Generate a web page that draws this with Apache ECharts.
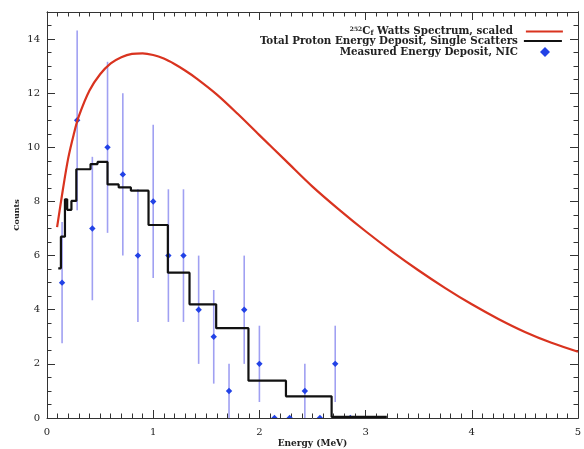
<!DOCTYPE html>
<html>
<head>
<meta charset="utf-8">
<script src="https://cdn.jsdelivr.net/npm/echarts@6/dist/echarts.min.js"></script>
<style>
  html, body { margin: 0; padding: 0; background: #ffffff; }
  #chart { width: 584px; height: 449px; }
</style>
</head>
<body>
<div id="chart"></div>
<script>
// Cf-252 Watts fission spectrum, scaled onto the counts axis
const wattsEnergy = [0.095, 0.15, 0.2, 0.25, 0.3, 0.4, 0.5, 0.6, 0.7, 0.8, 0.9, 1.0, 1.1, 1.2, 1.3, 1.4,
  1.6, 1.8, 2.0, 2.25, 2.5, 2.75, 3.0, 3.25, 3.5, 3.75, 4.0, 4.25, 4.5, 4.75, 5.0];
const wattsCounts = [7.05, 8.45, 9.6, 10.45, 11.15, 12.1, 12.7, 13.1, 13.33, 13.45, 13.47, 13.41, 13.28, 13.08, 12.84, 12.57,
  11.95, 11.22, 10.45, 9.5, 8.55, 7.7, 6.9, 6.15, 5.45, 4.8, 4.2, 3.66, 3.18, 2.78, 2.45];

// Simulated proton energy deposit (single scatters): bin edges and bin heights
const binEdges = [0.106, 0.131, 0.169, 0.19, 0.23, 0.276, 0.41, 0.476, 0.57, 0.675, 0.79, 0.956,
  1.138, 1.342, 1.593, 1.897, 2.25, 2.68, 3.2];
const binCounts = [5.53, 6.70, 8.08, 7.69, 8.02, 9.19, 9.38, 9.46, 8.63, 8.52, 8.40, 7.13,
  5.37, 4.20, 3.32, 1.38, 0.80, 0.04];

// Measured NIC energy deposits with their statistical errors
const measEnergy = [0.142, 0.284, 0.427, 0.570, 0.714, 0.856, 1.0, 1.143, 1.285, 1.428,
  1.570, 1.714, 1.857, 2.0, 2.142, 2.285, 2.428, 2.570, 2.714, 2.856];
const measCounts = [5, 11, 7, 10, 9, 6, 8, 6, 6, 4, 3, 1, 4, 2, 0, 0, 1, 0, 2, 0];
const measErrors = [2.24, 3.32, 2.65, 3.16, 3.0, 2.45, 2.83, 2.45, 2.45, 2.0,
  1.73, 1.0, 2.0, 1.41, 0, 0, 1.0, 0, 1.41, 0];

// Axis ranges and legend labels
const energyRange = [0, 5];
const countsRange = [0, 15];
const wattsName = 'Watts Spectrum';
const protonName = 'Total Proton Energy Deposit, Single Scatters';
const measName = 'Measured Energy Deposit, NIC';

const FONT = 'DejaVu Serif';
const INK = '#222222';
const AXIS = '#333333';

const wattsData = wattsEnergy.map((e, i) => [e, wattsCounts[i]]);
const stepData = binEdges.map((e, i) => [e, binCounts[Math.min(i, binCounts.length - 1)]]);
const measData = measEnergy.map((e, i) => [e, measCounts[i], measErrors[i]]);

function xAxisDef(pos, withLabels) {
  return {
    type: 'value', position: pos, min: energyRange[0], max: energyRange[1], interval: 1,
    name: withLabels ? 'Energy (MeV)' : '', nameLocation: 'middle', nameGap: 21, nameMoveOverlap: false,
    nameTextStyle: { fontFamily: FONT, fontSize: 9, fontWeight: 'bold', color: INK },
    axisLine: { show: true, onZero: false, lineStyle: { color: AXIS, width: 1 } },
    axisTick: { show: true, inside: true, length: 8, lineStyle: { color: AXIS } },
    minorTick: { show: true, splitNumber: 10, length: 4.5, lineStyle: { color: AXIS } },
    splitLine: { show: false },
    axisLabel: { show: withLabels, margin: 9, fontFamily: FONT, fontSize: 10, color: INK }
  };
}
function yAxisDef(pos, step, tickLen, withLabels) {
  return {
    type: 'value', position: pos, min: countsRange[0], max: countsRange[1], interval: step,
    name: withLabels ? 'Counts' : '', nameLocation: 'middle', nameGap: 26, nameMoveOverlap: false,
    nameTextStyle: { fontFamily: FONT, fontSize: 8, fontWeight: 'bold', color: INK },
    axisLine: { show: true, onZero: false, lineStyle: { color: AXIS, width: 1 } },
    axisTick: { show: true, inside: true, length: tickLen, lineStyle: { color: AXIS } },
    splitLine: { show: false },
    axisLabel: { show: withLabels, showMaxLabel: false, margin: 7, fontFamily: FONT, fontSize: 10, color: INK }
  };
}

// Legend entries: line samples without a centre marker
const legendText = { fontFamily: FONT, fontSize: 10.3, fontWeight: 'bold', color: INK, lineHeight: 12 };
const legendBase = {
  align: 'right', orient: 'vertical', padding: 0, selectedMode: false,
  itemStyle: { opacity: 0 }
};

const chart = echarts.init(document.getElementById('chart'), null, { renderer: 'canvas' });

chart.setOption({
  animation: false,
  backgroundColor: '#ffffff',
  grid: { left: 47, right: 6, top: 12, bottom: 31, containLabel: false, outerBoundsMode: 'none' },
  xAxis: [xAxisDef('bottom', true), xAxisDef('top', false)],
  yAxis: [
    yAxisDef('left', 2, 8, true),
    yAxisDef('left', 0.5, 4.5, false),
    yAxisDef('right', 2, 8, false),
    yAxisDef('right', 0.5, 4.5, false)
  ],
  legend: [
    Object.assign({}, legendBase, {
      data: [wattsName], right: 20, top: 25.5, itemWidth: 37, itemHeight: 14,
      lineStyle: { width: 2.2 },
      formatter: () => '{sup|252}C{sub|f} Watts Spectrum, scaled',
      textStyle: Object.assign({}, legendText, {
        padding: [0, 8, 0, 0],
        rich: {
          sup: { fontFamily: FONT, fontSize: 6, fontWeight: 'bold', color: INK, lineHeight: 12, padding: [0, 0, 5, 0] },
          sub: { fontFamily: FONT, fontSize: 7, fontWeight: 'bold', color: INK, lineHeight: 12, padding: [4, 0, 0, 0] }
        }
      })
    }),
    Object.assign({}, legendBase, {
      data: [protonName], right: 21, top: 35, itemWidth: 38, itemHeight: 14,
      lineStyle: { width: 2.2 },
      textStyle: Object.assign({}, legendText, { padding: [0, 1, 0, 0] })
    }),
    {
      data: [{ name: measName, icon: 'diamond' }], right: 34, top: 46, align: 'right', orient: 'vertical',
      itemWidth: 10, itemHeight: 10, padding: 0, selectedMode: false,
      textStyle: Object.assign({}, legendText, { padding: [0, 17, 0, 0] })
    }
  ],
  series: [
    {
      name: measName,
      type: 'custom',
      xAxisIndex: 0, yAxisIndex: 0,
      clip: true,
      z: 1,
      itemStyle: { color: '#2242e6' },
      data: measData,
      renderItem: function (params, api) {
        const x = api.value(0), y = api.value(1), err = api.value(2);
        const c = api.coord([x, y]);
        const children = [];
        if (err > 0) {
          const lo = api.coord([x, y - err]);
          const hi = api.coord([x, y + err]);
          children.push({
            type: 'line',
            shape: { x1: c[0], y1: lo[1], x2: c[0], y2: hi[1] },
            style: { stroke: '#a0a0f2', lineWidth: 1.6 }
          });
        }
        const r = 3.2;
        children.push({
          type: 'polygon',
          shape: { points: [[c[0], c[1] - r], [c[0] + r, c[1]], [c[0], c[1] + r], [c[0] - r, c[1]]] },
          style: { fill: '#2242e6' }
        });
        return { type: 'group', children: children };
      }
    },
    {
      name: protonName,
      type: 'line',
      xAxisIndex: 0, yAxisIndex: 0,
      step: 'end',
      symbol: 'none',
      z: 3,
      lineStyle: { color: '#111111', width: 2.2 },
      itemStyle: { color: '#111111' },
      data: stepData
    },
    {
      name: wattsName,
      type: 'line',
      xAxisIndex: 0, yAxisIndex: 0,
      smooth: 0.35,
      symbol: 'none',
      z: 4,
      lineStyle: { color: '#d9331f', width: 2.2 },
      itemStyle: { color: '#d9331f' },
      data: wattsData
    }
  ]
});
</script>
</body>
</html>
